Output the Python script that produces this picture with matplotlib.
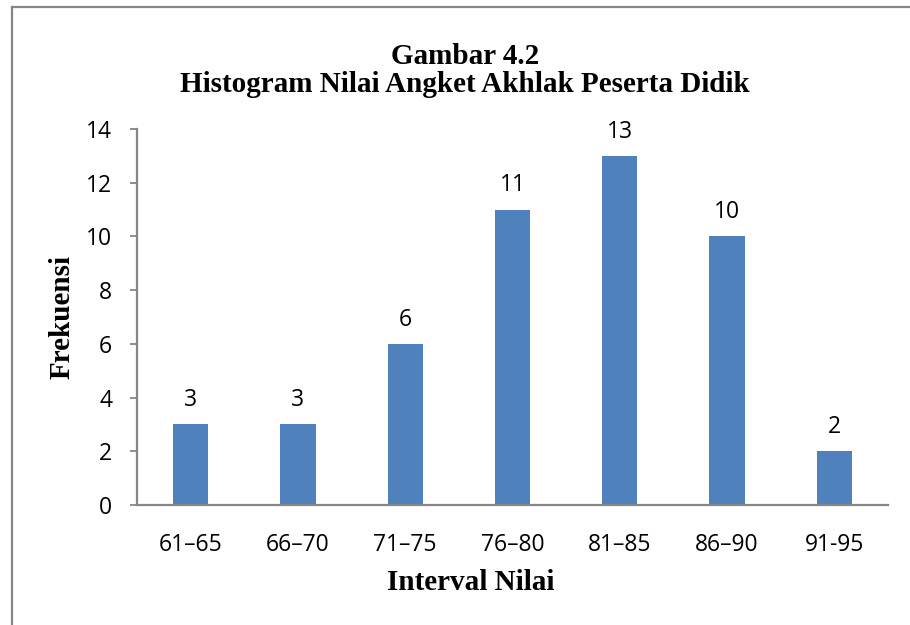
import matplotlib
matplotlib.use('agg')
from matplotlib import pyplot as plt
from matplotlib.lines import Line2D

intervals = ["61\u201365", "66\u201370", "71\u201375", "76\u201380", "81\u201385", "86\u201390", "91-95"]
frekuensi = [3, 3, 6, 11, 13, 10, 2]
y_ticks = [0, 2, 4, 6, 8, 10, 12, 14]

bar_color = "#4F81BD"
axis_color = "#868686"
serif = "Liberation Serif"
sans = "Open Sans"

fig = plt.figure(figsize=(9.1, 6.25), dpi=100)
ax = fig.add_axes([137 / 910, 1 - 505 / 625, (888 - 137) / 910, (505 - 129) / 625])

x = list(range(len(intervals)))
bars = ax.bar(x, frekuensi, width=0.33, color=bar_color)
for xi, v in zip(x, frekuensi):
    ax.text(xi, v + 0.45, str(v), ha="center", va="bottom", fontsize=16.5, family=sans)

ax.set_xlim(-0.5, len(intervals) - 0.5)
ax.set_ylim(0, 14)
ax.set_yticks(y_ticks)
ax.set_xticks(x)
ax.set_xticklabels(intervals, fontsize=16.5, family=sans)
ax.set_yticklabels([str(t) for t in y_ticks], fontsize=16.5, family=sans)
ax.tick_params(axis="x", length=0, pad=20)
ax.tick_params(axis="y", length=5, color=axis_color, width=1.3, pad=13)

for s in ["top", "right"]:
    ax.spines[s].set_visible(False)
for s in ["left", "bottom"]:
    ax.spines[s].set_color(axis_color)
    ax.spines[s].set_linewidth(1.6)

fig.text(465 / 910, 1 - 56 / 625, "Gambar 4.2", ha="center", va="center",
         fontsize=21, fontweight="bold", family=serif)
fig.text(465 / 910, 1 - 85 / 625, "Histogram Nilai Angket Akhlak Peserta Didik", ha="center", va="center",
         fontsize=21, fontweight="bold", family=serif)
fig.text(471 / 910, 1 - 583 / 625, "Interval Nilai", ha="center", va="center",
         fontsize=21, fontweight="bold", family=serif)
fig.text(62 / 910, 1 - 317 / 625, "Frekuensi", ha="center", va="center", rotation=90,
         fontsize=21, fontweight="bold", family=serif)

# chart frame (top and left edges only)
fig.add_artist(Line2D([12 / 910, 1], [1 - 7 / 625, 1 - 7 / 625], color=axis_color, lw=1.6))
fig.add_artist(Line2D([12 / 910, 12 / 910], [1 - 7 / 625, 0], color=axis_color, lw=1.6))

fig.savefig("out.png", dpi=100)
